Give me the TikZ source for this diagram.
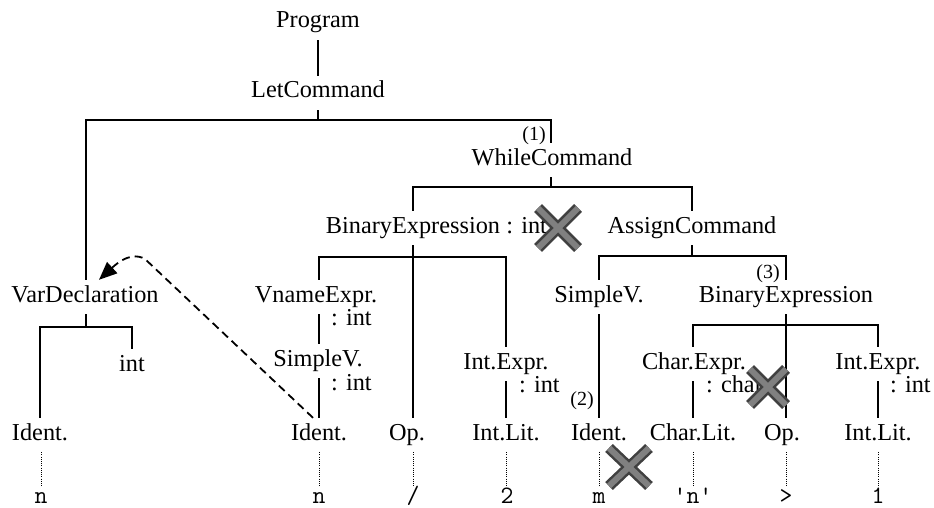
\documentclass[tikz,border=0pt]{standalone}
\usepackage{fontspec}
\setmainfont{Liberation Serif}
\usetikzlibrary{arrows.meta}
\begin{document}
\begin{tikzpicture}[x=1pt,y=-1pt,
  lbl/.style={anchor=base,inner sep=0pt,text height=22pt,text depth=12pt,font=\fontsize{24.3}{29}\selectfont},
  ann/.style={anchor=base west,inner sep=0pt,font=\fontsize{24.3}{29}\selectfont},
  num/.style={anchor=base east,inner sep=0pt,font=\fontsize{20}{24}\selectfont},
  tok/.style={anchor=base,inner sep=0pt,text height=17pt,text depth=4pt,font=\fontsize{25}{29}\selectfont\ttfamily},
  edge/.style={line width=2pt},
  leaf/.style={line width=1pt,dash pattern=on 1pt off 1.2pt},
  back/.style={line width=1.8pt,dash pattern=on 8pt off 5pt,-{Triangle[length=18pt,width=15pt]}},
  cross/.style={line width=11pt,draw=black!75},
  crossin/.style={line width=6pt,draw=black!50}
]
\useasboundingbox (0,0) rectangle (934,508);

% labels
\node[lbl] (prog) at (318,28) {Program};
\node[lbl] (let) at (318,98) {LetCommand};
\node[lbl] (whilec) at (552,165) {WhileCommand};
\node[lbl] (binL) at (413,233) {BinaryExpression};
\node[ann] (binLt) at ([xshift=6pt]binL.base east) {: int};
\node[lbl] (assign) at (692,233) {AssignCommand};
\node[lbl] (vardecl) at (85,302) {VarDeclaration};
\node[lbl] (vname) at (316,302) {VnameExpr.};
\node[ann] (vnamet) at (331,325) {: int};
\node[lbl] (simpL) at (318,366) {SimpleV.};
\node[ann] (simpLt) at (331,390) {: int};
\node[lbl] (intexL) at (506,369) {Int.Expr.};
\node[ann] (intexLt) at (519,392) {: int};
\node[lbl] (simpR) at (599,302) {SimpleV.};
\node[lbl] (binR) at (786,302) {BinaryExpression};
\node[lbl] (charex) at (694,369) {Char.Expr.};
\node[ann] (charext) at (706,392) {: char};
\node[lbl] (intexR) at (878,369) {Int.Expr.};
\node[ann] (intexRt) at (890,392) {: int};
\node[lbl] (intkw) at (132,371) {int};
\node[lbl] (identA) at (40,440) {Ident.};
\node[lbl] (identB) at (319,440) {Ident.};
\node[lbl] (opL) at (407,440) {Op.};
\node[lbl] (intlitL) at (506,440) {Int.Lit.};
\node[lbl] (identC) at (599,440) {Ident.};
\node[lbl] (charlit) at (693,440) {Char.Lit.};
\node[lbl] (opR) at (782,440) {Op.};
\node[lbl] (intlitR) at (878,440) {Int.Lit.};

% numbers
\node[num] (n1) at (546,140) {(1)};
\node[num] (n2) at (594,405) {(2)};
\node[num] (n3) at (780,278) {(3)};

% tokens
\node[tok] (tA) at (41,503) {n};
\node[tok] (tB) at (319,503) {n};
\node[tok] (tC) at (413,503) {/};
\node[tok] (tD) at (507,503) {2};
\node[tok] (tE) at (599,503) {m};
\node[tok] (tF) at (693,503) {'n'};
\node[tok] (tG) at (786,503) {>};
\node[tok] (tH) at (878,503) {1};

% bar junctions
\coordinate (b1) at (318,120);
\coordinate (b2) at (551,187);
\coordinate (b3) at (692,256);
\coordinate (b4) at (413,257);
\coordinate (b5) at (86,327);
\coordinate (b6) at (786,325);

% tree edges
\draw[edge] (prog.south) -- (let.north);
\draw[edge] (let.south) -- (b1);
\draw[edge] ([xshift=1pt]vardecl.north) |- (b1) -| ([xshift=-1pt]whilec.north);
\draw[edge] ([xshift=-1pt]whilec.south) -- (b2);
\draw[edge] (binL.north) |- (b2) -| (assign.north);
\draw[edge] (assign.south) -- (b3);
\draw[edge] (simpR.north) |- (b3) -| (binR.north);
\draw[edge] (binL.south) -- (b4) -- (b4 |- opL.north);
\draw[edge] ([xshift=3pt]vname.north) |- (b4) -| (intexL.north);
\draw[edge] ([xshift=1pt]vardecl.south) -- (b5);
\draw[edge] (identA.north) |- (b5) -| (intkw.north);
\draw[edge] (binR.south) -- (b6) -- (b6 |- opR.north);
\draw[edge] ([xshift=-1pt]charex.north) |- (b6) -| (intexR.north);
\draw[edge] ([xshift=3pt]vname.south) -- ([xshift=1pt]simpL.north);
\draw[edge] ([xshift=1pt]simpL.south) -- (identB.north);
\draw[edge] (intexL.south) -- (intlitL.north);
\draw[edge] (simpR.south) -- (identC.north);
\draw[edge] ([xshift=-1pt]charex.south) -- (charlit.north);
\draw[edge] (intexR.south) -- (intlitR.north);

% dotted leaf links
\draw[leaf] ([xshift=1pt]identA.south) -- ([xshift=1pt]identA.south |- tA.north);
\draw[leaf] (identB.south) -- (tB.north);
\draw[leaf] (b4 |- opL.south) -- (tC.north);
\draw[leaf] (intlitL.south) -- (intlitL.south |- tD.north);
\draw[leaf] (identC.south) -- (tE.north);
\draw[leaf] (charlit.south) -- (tF.north);
\draw[leaf] (b6 |- opR.south) -- (tG.north);
\draw[leaf] (intlitR.south) -- (tH.north);

% back reference
\draw[back] ([xshift=-6pt]identB.north) -- (145,259) .. controls (138,255) and (127,254) .. ([xshift=14pt]vardecl.north);

% crosses
\draw[cross] (538,208) -- (578,248) (538,248) -- (578,208);
\draw[crossin] (538,208) -- (578,248) (538,248) -- (578,208);
\draw[cross] (750,369) -- (786,405) (750,405) -- (786,369);
\draw[crossin] (750,369) -- (786,405) (750,405) -- (786,369);
\draw[cross] (609,448) -- (649,486) (609,486) -- (649,448);
\draw[crossin] (609,448) -- (649,486) (609,486) -- (649,448);
\end{tikzpicture}
\end{document}
